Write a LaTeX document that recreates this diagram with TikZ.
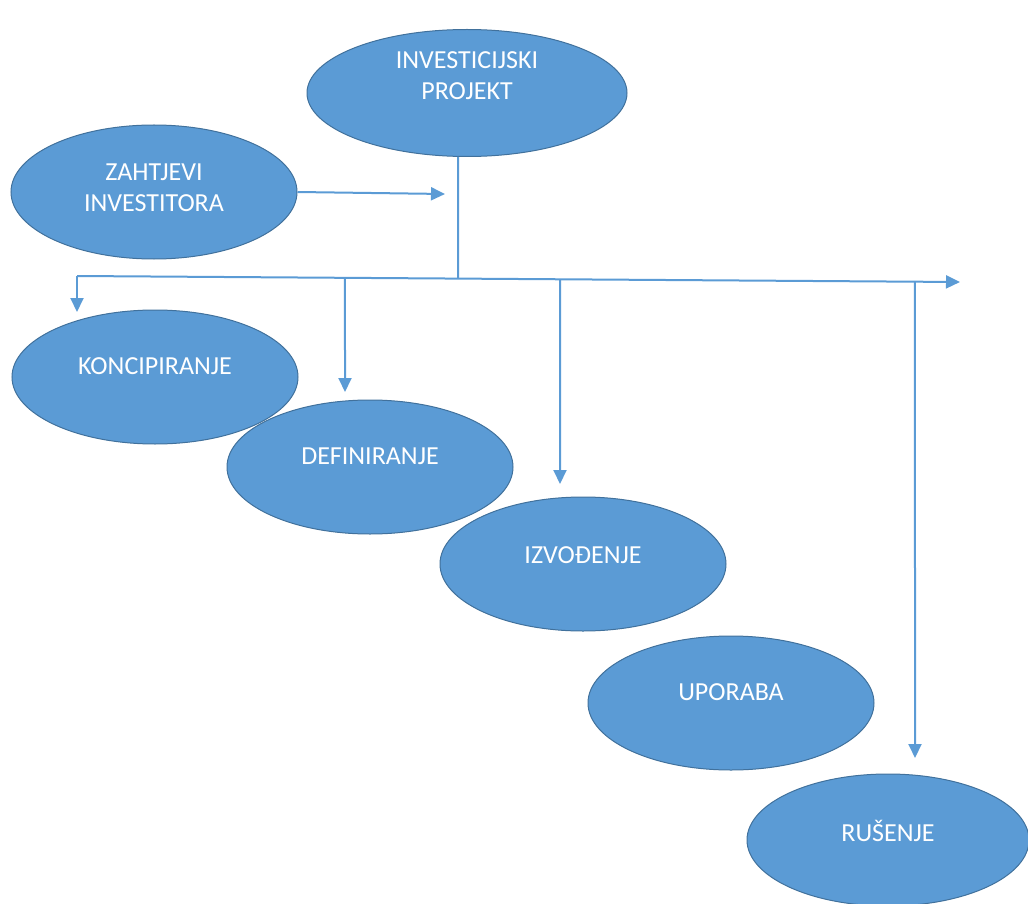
\documentclass[tikz,border=0pt]{standalone}
\usepackage{fontspec}
\setmainfont{Carlito}
\usetikzlibrary{calc,shapes.geometric,arrows.meta}
\definecolor{plava}{HTML}{5B9BD5}
\definecolor{rub}{HTML}{41719C}
\tikzset{
  faza/.style={ellipse, draw=rub, fill=plava, line width=1pt, text=white,
    font=\fontsize{26}{31}\selectfont, align=center, inner sep=0pt,
    minimum width=286pt, minimum height=134pt, text depth=22pt},
  veza/.style={draw=plava, line width=2pt},
  str/.style={veza, -{Triangle[length=14pt,width=13pt]}},
}
\begin{document}
\begin{tikzpicture}[x=1pt,y=-1pt]
  \useasboundingbox (0,0) rectangle (1028,904);
  % faze projekta
  \node[faza, minimum width=320pt, minimum height=127pt, text depth=35pt] (projekt) at (467,93) {INVESTICIJSKI\\PROJEKT};
  \node[faza, text depth=8pt] (zahtjevi) at (154,192) {ZAHTJEVI\\INVESTITORA};
  \node[faza] (konc) at (155,377) {KONCIPIRANJE};
  \node[faza] (def) at (370,467) {DEFINIRANJE};
  \node[faza, text depth=18pt] (izv) at (583,564) {IZVOĐENJE};
  \node[faza] (upor) at (731,703) {UPORABA};
  \node[faza, minimum width=282pt, minimum height=132pt, text depth=18pt] (rus) at (888,840) {RUŠENJE};
  % sabirnica
  \coordinate (busL) at (77,276);
  \coordinate (busR) at (960,282);
  \coordinate (busP) at ($(busL)!0.4315!(busR)$);
  \coordinate (zahT) at (445,194);
  \coordinate (konT) at (77,312);
  \coordinate (defT) at (345,392);
  \coordinate (izvT) at (560,484);
  \coordinate (rusT) at (915,758);
  \draw[str] (busL) -- (busR);
  \draw[veza] ($(projekt.south)+(-9,0)$) -- (busP);
  \draw[str] (zahtjevi.east) -- (zahT);
  \draw[str] (busL) -- (konT);
  \draw[str] ($(busL)!0.3035!(busR)$) -- (defT);
  \draw[str] ($(busL)!0.547!(busR)$) -- (izvT);
  \draw[str] ($(busL)!0.949!(busR)$) -- (rusT);
\end{tikzpicture}
\end{document}
